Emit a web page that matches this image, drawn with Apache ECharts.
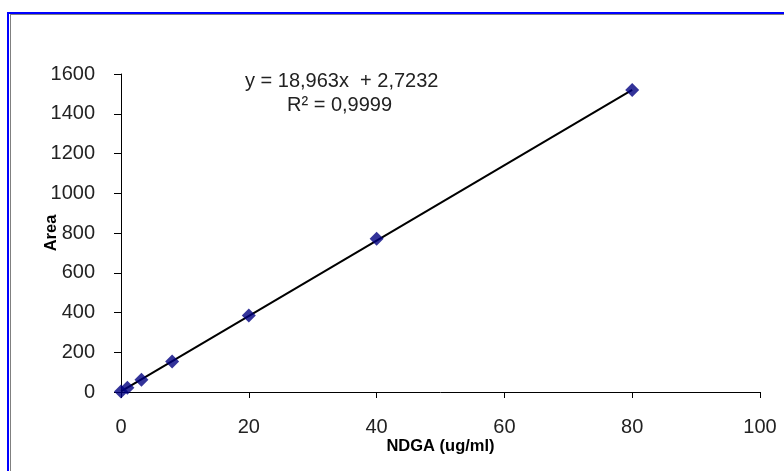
<!DOCTYPE html>
<html>
<head>
<meta charset="utf-8">
<script src="https://cdn.jsdelivr.net/npm/echarts@6/dist/echarts.min.js"></script>
<style>
  html, body { margin: 0; padding: 0; background: #fff; }
  #chart { width: 784px; height: 471px; }
</style>
</head>
<body>
<div id="chart"></div>
<script>
// measured points (concentration, peak area)
var concentration = [0, 1, 3.2, 8, 20, 40, 80];
var area = [2, 21, 62, 153, 385, 771, 1520];
// linear trendline y = 18.963x + 2.7232, drawn between its two ends
var trendX = [0, 80];
var trendY = [2.7232, 1519.76];
var xTicks = [0, 20, 40, 60, 80, 100];
var yTicks = [0, 200, 400, 600, 800, 1000, 1200, 1400, 1600];

var chartElement = document.getElementById('chart');
var chart = echarts.init(chartElement);

var font = 'Liberation Sans, Arial, sans-serif';

var option = {
    animation: false,
    backgroundColor: '#fff',
    grid: {
        left: 121,
        right: 24,
        top: 74,
        bottom: 79
    },
    xAxis: {
        type: 'value',
        min: xTicks[0],
        max: xTicks[xTicks.length - 1],
        interval: 20,
        name: 'NDGA (ug/ml)',
        nameLocation: 'middle',
        nameGap: 46,
        nameMoveOverlap: false,
        nameTextStyle: { fontFamily: font, fontSize: 16.5, fontWeight: 'bold', color: '#000' },
        axisLine: { lineStyle: { color: '#000', width: 1 } },
        axisTick: { inside: false, length: 6, lineStyle: { color: '#000' } },
        axisLabel: { fontFamily: font, fontSize: 20, color: '#222', margin: 25 },
        splitLine: { show: false }
    },
    yAxis: {
        type: 'value',
        min: yTicks[0],
        max: yTicks[yTicks.length - 1],
        interval: 200,
        name: 'Area',
        nameLocation: 'middle',
        nameGap: 61,
        nameMoveOverlap: false,
        nameTextStyle: { fontFamily: font, fontSize: 16.5, fontWeight: 'bold', color: '#000' },
        axisLine: { show: true, lineStyle: { color: '#000', width: 1 } },
        axisTick: { show: true, length: 7, lineStyle: { color: '#000' } },
        axisLabel: {
            fontFamily: font,
            fontSize: 20,
            color: '#222',
            margin: 26,
            formatter: function (v) { return String(v); }
        },
        splitLine: { show: false }
    },
    series: [
        {
            name: 'Linear',
            type: 'line',
            data: trendX.map(function (x, i) { return [x, trendY[i]]; }),
            showSymbol: false,
            lineStyle: { color: '#000', width: 2 },
            z: 2
        },
        {
            name: 'Area',
            type: 'scatter',
            data: concentration.map(function (x, i) { return [x, area[i]]; }),
            symbol: 'diamond',
            symbolSize: [14, 14],
            itemStyle: { color: '#000080' },
            z: 3
        }
    ],
    graphic: [
        { type: 'rect', shape: { x: 7, y: 12, width: 777, height: 2 }, style: { fill: '#0000ff' } },
        { type: 'rect', shape: { x: 7, y: 12, width: 2, height: 459 }, style: { fill: '#0000ff' } },
        { type: 'rect', shape: { x: 10, y: 14, width: 774, height: 1 }, style: { fill: '#808080' } },
        { type: 'rect', shape: { x: 10, y: 14, width: 1, height: 457 }, style: { fill: '#808080' } },
        {
            type: 'text',
            left: 245,
            top: 71,
            style: {
                text: 'y = 18,963x  + 2,7232',
                fontFamily: font,
                fontSize: 20,
                fill: '#222'
            }
        },
        {
            type: 'text',
            left: 287,
            top: 95,
            style: {
                text: 'R² = 0,9999',
                fontFamily: font,
                fontSize: 20,
                fill: '#222'
            }
        }
    ]
};

chart.setOption(option);

window.onresize = function () {
    chart.resize();
};
</script>
</body>
</html>
